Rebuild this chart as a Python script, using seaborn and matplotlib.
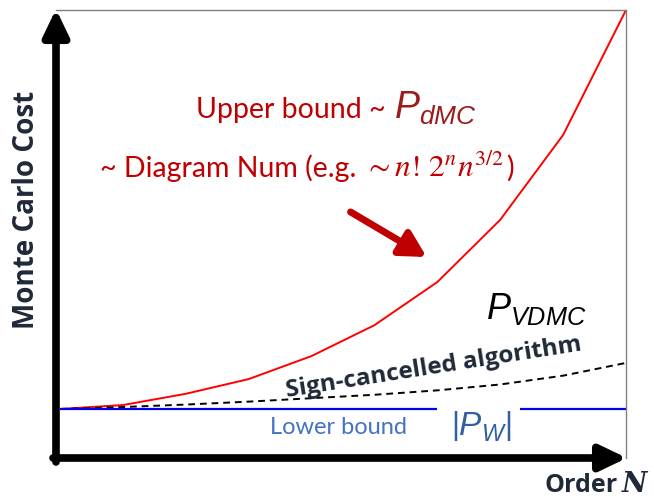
import matplotlib
matplotlib.use("Agg")
import matplotlib.pyplot as plt
import seaborn as sns
import pandas as pd
import numpy as np
from matplotlib.patches import FancyArrowPatch

# ---- data ----
order = [1, 2, 3, 4, 5, 6, 7, 8, 9, 10]
upper_bound = [1.00, 1.08, 1.31, 1.61, 2.08, 2.71, 3.59, 4.86, 6.59, 9.14]
sign_cancelled = [1.00, 1.04, 1.09, 1.15, 1.22, 1.29, 1.38, 1.50, 1.68, 1.94]
lower_bound = 1.0
lower_gap = (7.0, 8.32)

sns.set_theme(style="white")
plt.rcParams["font.family"] = ["Lato", "DejaVu Sans"]
plt.rcParams["mathtext.fontset"] = "custom"
plt.rcParams["mathtext.rm"] = "Liberation Sans"
plt.rcParams["mathtext.it"] = "Liberation Sans:italic"
plt.rcParams["mathtext.bf"] = "Liberation Sans:bold"

W, H = 654, 500
fig = plt.figure(figsize=(W / 100, H / 100), dpi=100)
L, R, T, B = 60, 626, 10, 458
ax = fig.add_axes([L / W, 1 - B / H, (R - L) / W, (B - T) / H])

df = pd.DataFrame({"order": order, "upper": upper_bound, "sign": sign_cancelled})
sns.lineplot(data=df, x="order", y="upper", color="#ff0000", lw=1.4, ax=ax)
sns.lineplot(data=df, x="order", y="sign", color="black", lw=1.4, ax=ax,
             linestyle=(0, (3.5, 2.5)))
ax.hlines(lower_bound, order[0], lower_gap[0], color="#0000ee", lw=1.6)
ax.hlines(lower_bound, lower_gap[1], order[-1], color="#0000ee", lw=1.6)

ax.set_xlim(order[0], order[-1])
ax.set_ylim(0, upper_bound[-1])
ax.set_xticks([]); ax.set_yticks([])
ax.set_xlabel(""); ax.set_ylabel("")
for s in ["top", "right"]:
    ax.spines[s].set_color("#808080")
    ax.spines[s].set_linewidth(1.0)
for s in ["left", "bottom"]:
    ax.spines[s].set_visible(False)

def P(x, y):
    return (x / W, 1 - y / H)

fig.add_artist(plt.Line2D([56 / W, L / W], [1 - T / H] * 2, color="#808080", lw=1.0))

# axis arrows
ya = FancyArrowPatch(P(56, 462), P(56, 9), transform=fig.transFigure,
                     arrowstyle="-|>,head_length=1.15,head_width=0.55",
                     mutation_scale=14, lw=5.5, color="black",
                     shrinkA=0, shrinkB=0)
xa = FancyArrowPatch(P(53, 458), P(627, 458), transform=fig.transFigure,
                     arrowstyle="-|>,head_length=1.15,head_width=0.55",
                     mutation_scale=14, lw=5.5, color="black",
                     shrinkA=0, shrinkB=0)
fig.add_artist(ya); fig.add_artist(xa)

# red pointer arrow
ax.annotate("", xy=(6.83, 4.1), xytext=(5.62, 5.02),
            arrowprops=dict(arrowstyle="-|>,head_length=1.1,head_width=0.6",
                            mutation_scale=14, lw=5, color="#c00000",
                            shrinkA=0, shrinkB=0))

navy = "#1f2937"
fig.text(*P(27, 210), "Monte Carlo Cost", rotation=90, ha="center", va="center",
         fontsize=20, fontweight="bold", color=navy, family=["Open Sans", "DejaVu Sans"])
fig.text(*P(618, 486), "Order", ha="right", va="center",
         fontsize=18, fontweight="bold", color=navy, family=["Open Sans", "DejaVu Sans"])
fig.text(*P(622, 485), "N", ha="left", va="center", fontsize=20, fontweight="bold",
         style="italic", color=navy, family=["DejaVu Serif"])

red = "#c00000"
fig.text(*P(196, 110), "Upper bound ~", ha="left", va="center", fontsize=20.5, color=red)
fig.text(*P(394, 108), r"$P_{dMC}$", ha="left", va="center", fontsize=27, color="#9b1c1c")

renderer = fig.canvas.get_renderer()
ta = fig.text(*P(100, 177), "~ Diagram Num (e.g.", ha="left", va="baseline",
              fontsize=20.5, color=red)
bb = ta.get_window_extent(renderer)
tb = fig.text((bb.x1 + 8) / W, ta.get_position()[1],
              r"$\sim n!\,\mathrm{2}^{n}n^{3/2}$", ha="left", va="baseline",
              fontsize=22.5, color=red, math_fontfamily="stix")
bb2 = tb.get_window_extent(renderer)
fig.text((bb2.x1 + 2) / W, ta.get_position()[1], ")", ha="left", va="baseline",
         fontsize=20.5, color=red)

fig.text(*P(486, 309), r"$P_{VDMC}$", ha="left", va="center", fontsize=26, color="black")
fig.text(*P(434, 368), "Sign-cancelled algorithm", ha="center", va="center",
         rotation=9, rotation_mode="anchor", fontsize=17.5, fontweight="bold",
         color=navy, family=["Open Sans", "DejaVu Sans"])

fig.text(*P(270, 428), "Lower bound", ha="left", va="center", fontsize=17, color="#4472c4")
fig.text(*P(451, 426), r"$\left|P_W\right|$", ha="left", va="center", fontsize=24,
         color="#2f5fa6")

fig.savefig("out.png", dpi=100)
